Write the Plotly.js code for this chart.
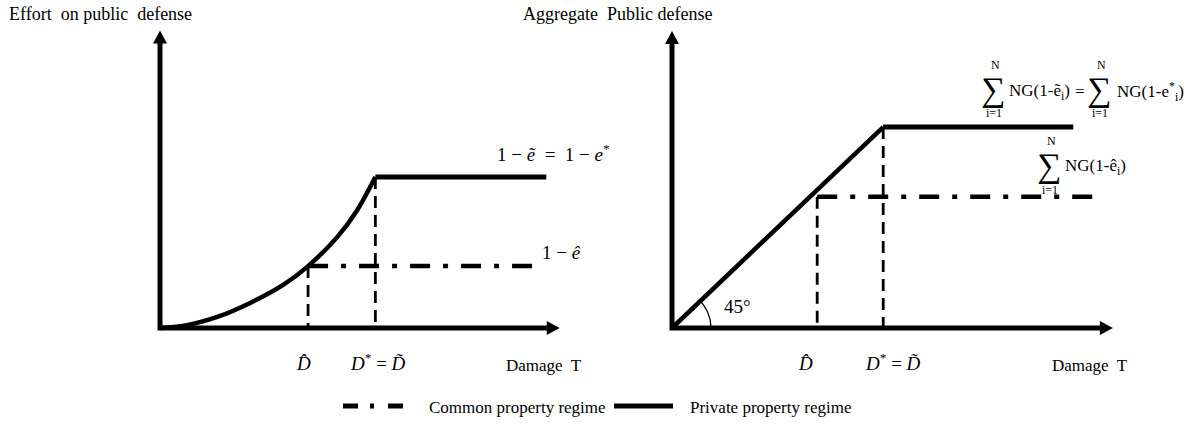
<!DOCTYPE html>
<html>
<head>
<meta charset="utf-8">
<script src="https://cdn.plot.ly/plotly-3.0.1.min.js"></script>
<style>html,body{margin:0;padding:0;background:#fff}</style>
</head>
<body>
<div id="chart" style="width:1189px;height:431px"></div>
<script>
// ---- Left panel: individual effort on public defense vs damage T ----
const dHat = 2.2;            // D̂
const dStar = 3.2;           // D* = D̃
const effortCurveX = [0, 0.34, 0.85, 1.34, 1.83, 2.2, 2.63, 2.93, 3.2];
const effortCurveY = [0, 0.013, 0.073, 0.166, 0.285, 0.41, 0.60, 0.78, 1.0];
const effortPrivate = 1.0;   // 1 − ẽ = 1 − e*
const effortCommon = 0.41;   // 1 − ê
const effortPrivateEnd = 5.74;
const effortCommonEnd = 5.65;
const leftAxisEnd = [5.94, 1.97];

// ---- Right panel: aggregate public defense vs damage T ----
const aggDiagX = [0, 3.2];
const aggDiagY = [0, 3.2];
const aggPrivate = 3.2;
const aggCommon = 2.09;
const aggPrivateEnd = 6.08;
const aggCommonEnd = 6.48;
const rightAxisEnd = [6.68, 4.73];

// ---- page geometry ----
const W = 1189, H = 431;
const LP = {ox: 160, oy: 328, sx: 67.3, sy: 151, d0: 0};
const RP = {ox: 672, oy: 328, sx: 66, sy: 62.8, d0: W / 2};
const xRange = p => [(p.d0 - p.ox) / p.sx, (p.d0 + W / 2 - p.ox) / p.sx];
const yRange = p => [-(H - p.oy) / p.sy, p.oy / p.sy];

const HEAD = 12;   // arrow head length, px
const DASH = '12px,7px';
const DASHDOT = '20px,13px,5px,13px';
const SERIF = 'Liberation Serif, Times New Roman, serif';
const NB = '\u00A0';

function line(x, y, xa, ya, width, dash, shape) {
  return {x: x, y: y, xaxis: xa, yaxis: ya, mode: 'lines', hoverinfo: 'skip',
    line: {color: '#000', width: width, dash: dash || 'solid', shape: shape || 'linear', smoothing: 0.8}};
}

const traces = [];
// axes (drawn as an L so the corner joins cleanly)
traces.push(line([0, 0, leftAxisEnd[0] - HEAD / LP.sx], [leftAxisEnd[1] - HEAD / LP.sy, 0, 0], 'x', 'y', 5));
traces.push(line([0, 0, rightAxisEnd[0] - HEAD / RP.sx], [rightAxisEnd[1] - HEAD / RP.sy, 0, 0], 'x2', 'y2', 5));

// left panel
traces.push(line(effortCurveX, effortCurveY, 'x', 'y', 4.5, null, 'spline'));
traces.push(line([dStar, effortPrivateEnd], [effortPrivate, effortPrivate], 'x', 'y', 5));
traces.push(line([dHat, effortCommonEnd], [effortCommon, effortCommon], 'x', 'y', 4.5, DASHDOT));
traces.push(line([dHat, dHat], [effortCommon, 0], 'x', 'y', 2.8, DASH));
traces.push(line([dStar, dStar], [effortPrivate, 0], 'x', 'y', 2.8, DASH));

// right panel
traces.push(line(aggDiagX, aggDiagY, 'x2', 'y2', 4.5));
traces.push(line([aggDiagX[1], aggPrivateEnd], [aggPrivate, aggPrivate], 'x2', 'y2', 5));
traces.push(line([dHat, aggCommonEnd], [aggCommon, aggCommon], 'x2', 'y2', 4.5, DASHDOT));
traces.push(line([dHat, dHat], [aggCommon, 0], 'x2', 'y2', 2.8, DASH));
traces.push(line([dStar, dStar], [aggPrivate, 0], 'x2', 'y2', 2.8, DASH));

// 45° angle marker at the origin of the right panel
const arcR = 39;
const arcTop = Math.atan2(aggDiagY[1] * RP.sy, aggDiagX[1] * RP.sx);
const arcX = [], arcY = [];
for (let k = 0; k <= 24; k++) {
  const t = arcTop * k / 24;
  arcX.push(arcR * Math.cos(t) / RP.sx);
  arcY.push(arcR * Math.sin(t) / RP.sy);
}
traces.push(line(arcX, arcY, 'x2', 'y2', 1.3));

// arrow heads
function head(xa, ya, x, y, dir) {
  const path = dir === 'up' ? 'M-7,-13L7,-13L0,0Z' : 'M-13,-7L-13,7L0,0Z';
  return {type: 'path', xref: xa, yref: ya, xsizemode: 'pixel', ysizemode: 'pixel',
    xanchor: x, yanchor: y, path: path, fillcolor: '#000', line: {width: 0}};
}
const shapes = [
  head('x', 'y', 0, leftAxisEnd[1], 'up'),
  head('x', 'y', leftAxisEnd[0], 0, 'right'),
  head('x2', 'y2', 0, rightAxisEnd[1], 'up'),
  head('x2', 'y2', rightAxisEnd[0], 0, 'right'),
  // legend samples
  {type: 'line', xref: 'paper', yref: 'paper', x0: 343 / W, x1: 404 / W, y0: 1 - 406 / H, y1: 1 - 406 / H,
    line: {color: '#000', width: 5, dash: '15px,12px,4px,14px'}},
  {type: 'line', xref: 'paper', yref: 'paper', x0: 614 / W, x1: 673 / W, y0: 1 - 406 / H, y1: 1 - 406 / H,
    line: {color: '#000', width: 5}}
];

// text placed in page pixels
function txt(px, py, text, size, anchor, extra) {
  return Object.assign({xref: 'paper', yref: 'paper', x: px / W, y: 1 - py / H,
    xanchor: anchor || 'center', yanchor: 'middle', text: text, showarrow: false,
    font: {family: SERIF, size: size, color: '#000'}}, extra || {});
}

const annotations = [
  txt(7, 14, 'Effort' + NB + ' on public' + NB + ' defense', 18, 'left'),
  txt(521, 14, 'Aggregate' + NB + ' Public defense', 18, 'left'),
  txt(495, 153, '1 − <i>ẽ</i>' + NB + NB + '=' + NB + NB + '1 − <i>e</i><sup>*</sup>', 19, 'left'),
  txt(561, 252, '1 − <i>ê</i>', 19),
  txt(303, 363, '<i>D̂</i>', 19),
  txt(378, 362, '<i>D</i><sup>*</sup> = <i>D̃</i>', 19),
  txt(544, 365, 'Damage' + NB + ' T', 17),
  txt(805, 363, '<i>D̂</i>', 19),
  txt(893, 362, '<i>D</i><sup>*</sup> = <i>D̃</i>', 19),
  txt(1090, 365, 'Damage' + NB + ' T', 17),
  txt(737, 306, '45°', 19),
  // Σ NG(1-ẽi) = Σ NG(1-e*i)
  txt(993, 90, '∑', 34),
  txt(995, 65, 'N', 12),
  txt(994, 113, 'i=1', 12),
  txt(1007, 92, 'NG(1-ẽ<sub>i</sub>)', 17, 'left'),
  txt(1080, 92, '=', 17),
  txt(1099, 90, '∑', 34),
  txt(1101, 65, 'N', 12),
  txt(1100, 113, 'i=1', 12),
  txt(1115, 92, 'NG(1-e<sup>*</sup><sub>i</sub>)', 17, 'left'),
  // Σ NG(1-êi)
  txt(1049, 166, '∑', 34),
  txt(1051, 141, 'N', 12),
  txt(1050, 190, 'i=1', 12),
  txt(1063, 167, 'NG(1-ê<sub>i</sub>)', 17, 'left'),
  // legend
  txt(427, 407, 'Common' + NB + 'property' + NB + 'regime', 17, 'left'),
  txt(688, 407, 'Private' + NB + 'property' + NB + 'regime', 17, 'left')
];

const hidden = {showgrid: false, zeroline: false, showticklabels: false, showline: false, ticks: '', fixedrange: true};
const layout = {
  width: W, height: H,
  margin: {l: 0, r: 0, t: 0, b: 0},
  paper_bgcolor: '#fff', plot_bgcolor: 'rgba(0,0,0,0)',
  showlegend: false,
  xaxis: Object.assign({domain: [0, 0.5], range: xRange(LP)}, hidden),
  yaxis: Object.assign({domain: [0, 1], range: yRange(LP), anchor: 'x'}, hidden),
  xaxis2: Object.assign({domain: [0.5, 1], range: xRange(RP), anchor: 'y2'}, hidden),
  yaxis2: Object.assign({domain: [0, 1], range: yRange(RP), anchor: 'x2'}, hidden),
  shapes: shapes,
  annotations: annotations
};

Plotly.newPlot('chart', traces, layout, {staticPlot: true, displayModeBar: false});
</script>
</body>
</html>
